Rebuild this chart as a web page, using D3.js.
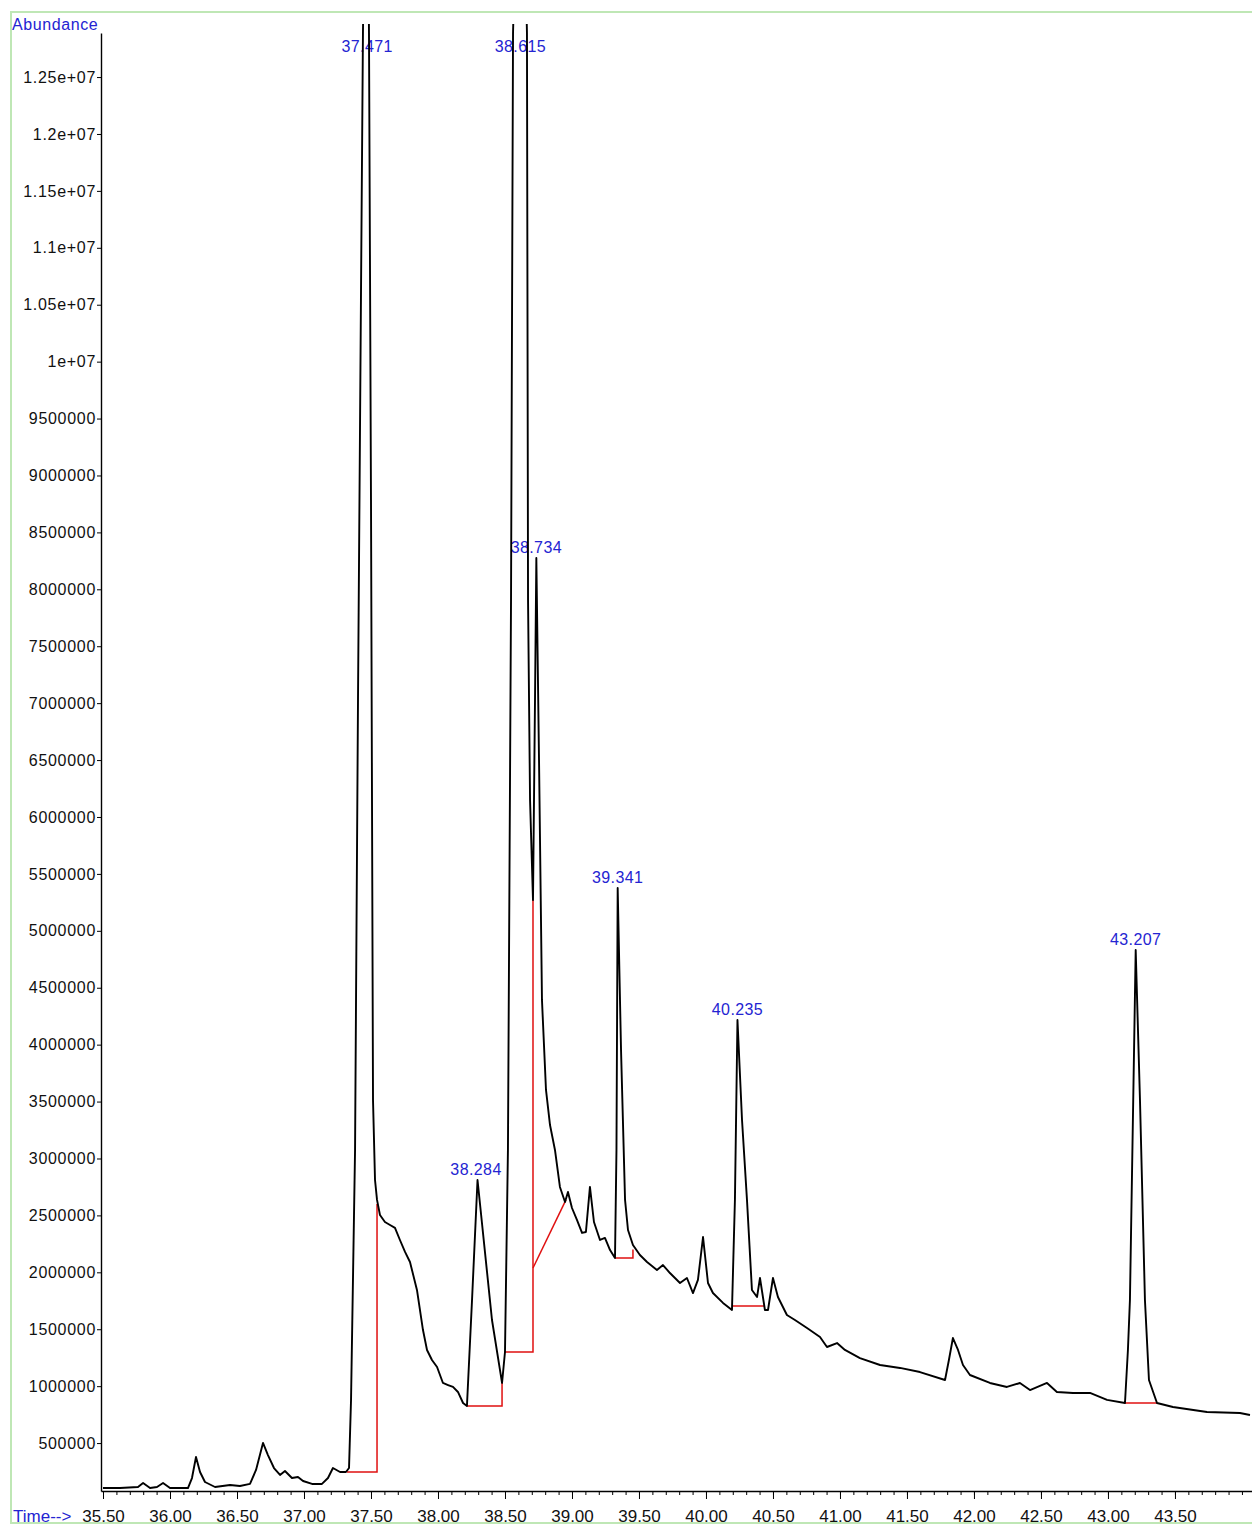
<!DOCTYPE html>
<html>
<head>
<meta charset="utf-8">
<script src="https://cdn.jsdelivr.net/npm/d3@7"></script>
<style>
  body { margin: 0; background: #fff; }
  svg { display: block; }
  text { font-family: "Liberation Sans", Arial, sans-serif; }
</style>
</head>
<body>
<div id="chart"></div>
<script>
// retention time (min) and abundance
const times = [35.500,35.627,35.761,35.799,35.851,35.903,35.948,36.000,36.134,36.164,36.194,36.224,36.261,36.336,36.448,36.522,36.597,36.642,36.694,36.731,36.776,36.821,36.858,36.910,36.955,36.993,37.060,37.134,37.179,37.216,37.269,37.313,
  37.336,37.351,37.381,37.403,37.425,37.440,37.466,37.485,37.500,37.515,37.530,37.545,37.567,37.604,37.642,37.679,37.716,37.754,37.791,37.843,37.888,37.918,37.955,37.993,38.037,38.075,38.112,38.149,38.187,38.216,38.254,38.295,38.403,38.478,
  38.500,38.522,38.545,38.560,38.615,38.664,38.672,38.687,38.709,38.724,38.734,38.754,38.776,38.806,38.836,38.873,38.910,38.948,38.970,39.000,39.037,39.075,39.104,39.134,39.164,39.209,39.246,39.284,39.321,39.332,39.341,39.366,39.396,39.418,
  39.455,39.507,39.560,39.634,39.679,39.731,39.806,39.858,39.903,39.940,39.978,40.015,40.052,40.127,40.194,40.216,40.235,40.269,40.306,40.343,40.381,40.403,40.440,40.463,40.500,40.537,40.604,40.664,40.754,40.851,40.903,40.978,41.037,41.149,
  41.299,41.448,41.597,41.784,41.813,41.843,41.881,41.918,41.970,42.119,42.246,42.343,42.418,42.545,42.619,42.739,42.866,42.993,43.127,43.149,43.164,43.207,43.239,43.276,43.306,43.366,43.485,43.739,43.985,44.060];

const abundances = [105000,105000,114000,149000,105000,114000,149000,105000,105000,193000,378000,246000,158000,114000,132000,123000,141000,264000,501000,395000,281000,220000,255000,193000,202000,167000,141000,141000,193000,281000,246000,246000,
  281000,879000,3075000,7028000,10542000,12888000,15500000,12888000,8785000,3514000,2811000,2636000,2504000,2442000,2416000,2390000,2284000,2179000,2091000,1845000,1493000,1318000,1230000,1168000,1028000,1010000,993000,949000,852000,826000,1757000,2811000,1581000,1028000,
  1300000,3075000,7907000,12888000,15500000,12888000,7907000,6150000,5271000,7028000,8275000,6501000,4393000,3602000,3294000,3075000,2750000,2618000,2706000,2565000,2460000,2346000,2354000,2750000,2442000,2284000,2302000,2196000,2126000,3075000,5376000,3953000,2636000,2372000,
  2240000,2152000,2091000,2021000,2064000,1994000,1906000,1950000,1818000,1933000,2310000,1906000,1818000,1731000,1669000,2636000,4217000,3338000,2636000,1845000,1783000,1950000,1669000,1669000,1950000,1783000,1625000,1581000,1511000,1432000,1344000,1379000,1318000,1247000,
  1186000,1160000,1124000,1054000,1230000,1423000,1318000,1186000,1098000,1028000,993000,1028000,966000,1028000,949000,940000,940000,879000,852000,1318000,1757000,4832000,3514000,1757000,1054000,852000,817000,773000,764000,747000];

// integrated peaks
const peakTimes  = [37.471, 38.284, 38.615, 38.734, 39.341, 40.235, 43.207];
const peakLabels = ['37.471', '38.284', '38.615', '38.734', '39.341', '40.235', '43.207'];

// integration baselines (red)
const baseTimes  = [[37.321, 37.545, 37.545], [38.216, 38.478, 38.478], [38.500, 38.709, 38.709], [38.709, 38.955],
                    [39.321, 39.455, 39.455], [40.194, 40.440], [43.127, 43.366]];
const baseValues = [[246000, 246000, 2600000], [826000, 826000, 1028000], [1300000, 1300000, 5271000], [2038000, 2636000],
                    [2126000, 2126000, 2200000], [1704000, 1704000], [852000, 852000]];

const yTicks = d3.range(500000, 12500001, 500000);
const xTicks = d3.range(35.5, 44.0, 0.5);
const xMinor = d3.range(35.5, 44.07, 0.1);

const W = 1252, H = 1526;
const blue = '#2424d2';

const svg = d3.select('#chart').append('svg')
  .attr('width', W).attr('height', H);

// green frame
svg.append('rect')
  .attr('x', 11).attr('y', 12).attr('width', W + 10).attr('height', 1511)
  .attr('fill', 'none').attr('stroke', '#bfe7b5').attr('stroke-width', 2);

const x = d3.scaleLinear().domain([35.485, 44.075]).range([101, 1252]);
const y = d3.scaleLinear().domain([79000, 12887000]).range([1491, 33]);

svg.append('defs').append('clipPath').attr('id', 'plot')
  .append('rect').attr('x', 101).attr('y', 24).attr('width', W - 101).attr('height', 1467);

const fmtY = v => v >= 1e7 ? (v / 1e7) + 'e+07' : String(v);

// y axis
const gy = svg.append('g')
  .attr('transform', 'translate(101,0)')
  .call(d3.axisLeft(y).tickValues(yTicks).tickSize(4).tickSizeOuter(0).tickPadding(1).tickFormat(fmtY));
gy.selectAll('text')
  .attr('font-family', '"Liberation Sans", Arial, sans-serif')
  .attr('font-size', 16).attr('letter-spacing', '0.7px').attr('fill', '#111');
gy.select('.domain').attr('stroke-width', 1.4);

// x axis, major + minor ticks
const gxm = svg.append('g')
  .attr('transform', 'translate(0,1491)')
  .call(d3.axisBottom(x).tickValues(xMinor).tickSize(4).tickSizeOuter(0).tickFormat(''));
gxm.select('.domain').remove();

const gx = svg.append('g')
  .attr('transform', 'translate(0,1491)')
  .call(d3.axisBottom(x).tickValues(xTicks).tickSize(8).tickSizeOuter(0).tickPadding(11).tickFormat(d3.format('.2f')));
gx.selectAll('text')
  .attr('font-family', '"Liberation Sans", Arial, sans-serif')
  .attr('font-size', 17).attr('fill', '#111');
gx.select('.domain').attr('stroke-width', 1.4);

svg.append('text')
  .attr('x', 12).attr('y', 30)
  .attr('font-size', 16).attr('letter-spacing', '0.6px').attr('fill', blue)
  .text('Abundance');

svg.append('text')
  .attr('x', 13).attr('y', 1522)
  .attr('font-size', 17).attr('fill', blue)
  .text('Time-->');

// peak labels (under the trace)
const trace = times.map((t, i) => ({ t, v: abundances[i] }));
const yTop = y.domain()[1];
peakTimes.forEach((pt, i) => {
  const near = trace.filter(d => Math.abs(d.t - pt) < 0.02);
  const apex = d3.max(near, d => d.v);
  const ly = apex >= yTop ? 52 : y(apex) - 5;
  svg.append('text')
    .attr('x', x(pt)).attr('y', ly)
    .attr('text-anchor', 'middle')
    .attr('font-size', 16).attr('letter-spacing', '0.4px')
    .attr('fill', blue)
    .text(peakLabels[i]);
});

const plot = svg.append('g').attr('clip-path', 'url(#plot)');

// baselines
baseTimes.forEach((ts, i) => {
  plot.append('path')
    .datum(ts.map((t, j) => [t, baseValues[i][j]]))
    .attr('fill', 'none')
    .attr('stroke', '#e01010')
    .attr('stroke-width', 1.5)
    .attr('d', d3.line().x(d => x(d[0])).y(d => y(d[1])));
});

// chromatogram trace
plot.append('path')
  .datum(trace)
  .attr('fill', 'none')
  .attr('stroke', '#000')
  .attr('stroke-width', 1.9)
  .attr('stroke-linejoin', 'round')
  .attr('d', d3.line().x(d => x(d.t)).y(d => y(d.v)));
</script>
</body>
</html>
